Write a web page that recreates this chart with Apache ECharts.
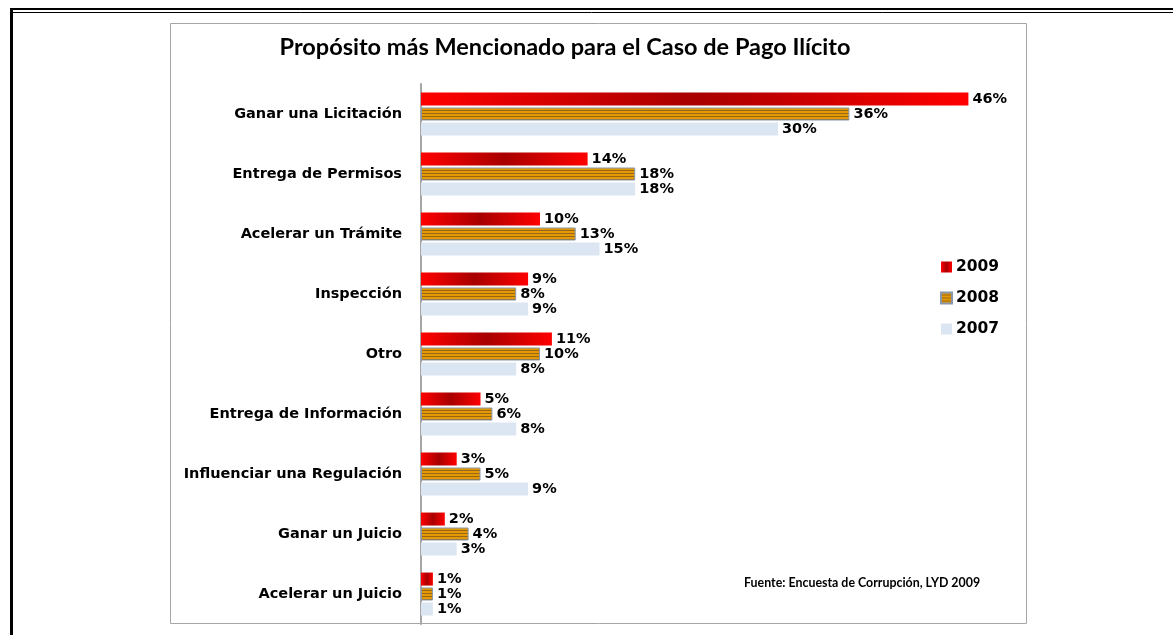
<!DOCTYPE html>
<html><head><meta charset="utf-8">
<script src="https://cdn.jsdelivr.net/npm/echarts@6/dist/echarts.min.js"></script>
<style>html,body{margin:0;padding:0;background:#fff}#c{width:1173px;height:635px}</style>
</head><body><div id="c"></div>
<script>
const categories = ["Ganar una Licitación","Entrega de Permisos","Acelerar un Trámite","Inspección","Otro","Entrega de Información","Influenciar una Regulación","Ganar un Juicio","Acelerar un Juicio"];
const values2009 = [46,14,10,9,11,5,3,2,1];
const values2008 = [36,18,13,8,10,6,5,4,1];
const values2007 = [30,18,15,9,8,8,9,3,1];
const seriesNames = ["2009","2008","2007"];

const cv = document.createElement('canvas');
cv.width = 4; cv.height = 3;
const cx = cv.getContext('2d');
cx.fillStyle = '#e39a06'; cx.fillRect(0,0,4,3);
cx.fillStyle = '#9a6510'; cx.fillRect(0,2,4,1);

const redGrad = {type:'linear',x:0,y:0,x2:1,y2:0,colorStops:[{offset:0,color:'#ff0000'},{offset:0.5,color:'#a80000'},{offset:1,color:'#ff0000'}]};
const labelStyle = {show:true,position:'right',distance:4,color:'#000',fontFamily:'DejaVu Sans',fontWeight:'bold',fontSize:14.5,formatter:'{c}%'};

const chart = echarts.init(document.getElementById('c'));
chart.setOption({
  animation:false,
  backgroundColor:'#fff',
  title:{text:'Propósito más Mencionado para el Caso de Pago Ilícito',left:560,textAlign:'center',top:30,
    textStyle:{fontFamily:'Lato',fontWeight:'bold',fontSize:23.5,color:'#000'}},
  grid:{left:421,right:157,top:84,bottom:11},
  xAxis:{type:'value',min:0,max:50,show:false},
  yAxis:{type:'category',data:categories,inverse:true,
    axisLine:{lineStyle:{color:'#a6a6a6',width:2}},axisTick:{show:false},
    axisLabel:{margin:19,color:'#000',fontFamily:'DejaVu Sans',fontWeight:'bold',fontSize:14.5}},
  legend:{orient:'vertical',left:935,top:254,itemWidth:11,itemHeight:11,itemGap:15,icon:'rect',
    data:seriesNames,
    textStyle:{fontFamily:'DejaVu Sans',fontWeight:'bold',fontSize:15.5,color:'#000',padding:[0,0,0,-1]}},
  series:[
    {name:seriesNames[0],type:'bar',data:values2009,barWidth:13,barGap:'15%',itemStyle:{color:redGrad},label:labelStyle},
    {name:seriesNames[1],type:'bar',data:values2008,barWidth:13,barGap:'15%',itemStyle:{color:{image:cv,repeat:'repeat'},borderColor:'#8796aa',borderWidth:1},label:labelStyle},
    {name:seriesNames[2],type:'bar',data:values2007,barWidth:13,barGap:'15%',itemStyle:{color:'#dce6f2'},label:labelStyle}
  ],
  graphic:[
    {type:'rect',shape:{x:170.5,y:23.5,width:856,height:600},style:{fill:null,stroke:'#a6a6a6',lineWidth:1},z:-1},
    {type:'line',shape:{x1:10,y1:9,x2:1173,y2:9},style:{stroke:'#000',lineWidth:2}},
    {type:'line',shape:{x1:10,y1:12.5,x2:1173,y2:12.5},style:{stroke:'#000',lineWidth:1}},
    {type:'rect',shape:{x:10,y:8,width:3,height:627},style:{fill:'#000'}},
    {type:'text',left:744,top:577,style:{text:'Fuente: Encuesta de Corrupción, LYD 2009',fontFamily:'Lato',fontSize:12.4,fontWeight:'bold',fill:'#000'}}
  ]
});
</script></body></html>
